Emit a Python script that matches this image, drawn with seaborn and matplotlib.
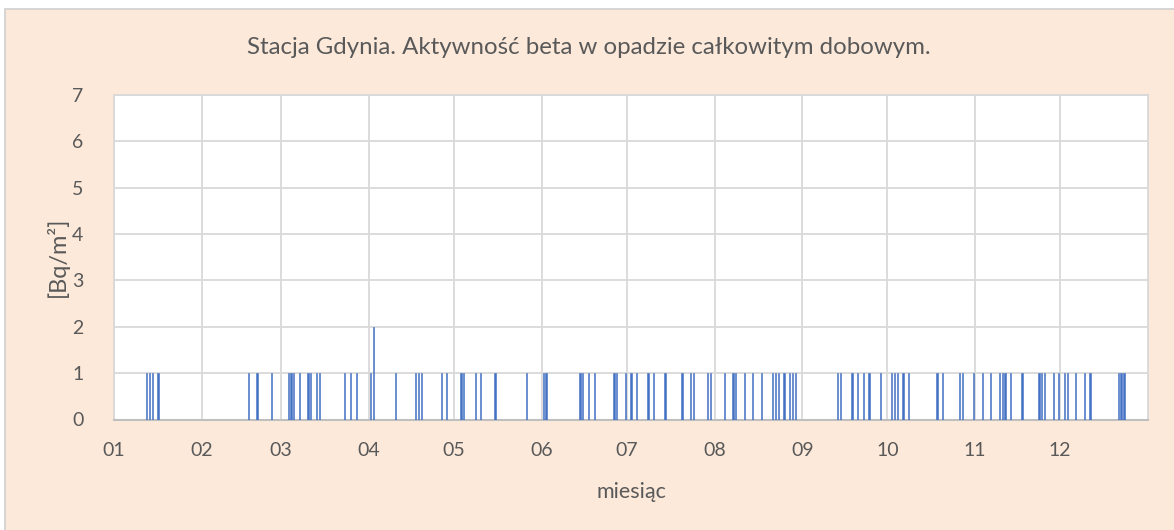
import numpy as np
import pandas as pd
import matplotlib
matplotlib.use("Agg")
import matplotlib.pyplot as plt
from matplotlib.patches import Rectangle
import seaborn as sns

# ---- data ----
year = 2021
dates = [
    "01-12", "01-13", "01-14", "01-16",
    "02-17", "02-20", "02-25",
    "03-03", "03-04", "03-05", "03-07", "03-10", "03-11", "03-13", "03-14",
    "03-23", "03-25", "03-27",
    "04-01", "04-02", "04-10", "04-17", "04-18", "04-19", "04-26", "04-28",
    "05-03", "05-04", "05-08", "05-10", "05-15", "05-26",
    "06-01", "06-02", "06-14", "06-15", "06-17", "06-19", "06-26", "06-27", "06-30",
    "07-02", "07-04", "07-08", "07-10", "07-14", "07-20", "07-23", "07-24", "07-29", "07-30",
    "08-04", "08-07", "08-08", "08-11", "08-14", "08-17", "08-21", "08-22", "08-23",
    "08-25", "08-27", "08-28", "08-29",
    "09-13", "09-14", "09-18", "09-20", "09-22", "09-24", "09-28",
    "10-02", "10-03", "10-04", "10-06", "10-08", "10-18", "10-20", "10-26", "10-27", "10-31",
    "11-03", "11-06", "11-09", "11-10", "11-11", "11-13", "11-17", "11-23", "11-24",
    "11-25", "11-28", "11-30",
    "12-02", "12-03", "12-06", "12-09", "12-11", "12-21", "12-22", "12-23",
]
values = [2 if d == "04-02" else 1 for d in dates]
month_labels = ["01", "02", "03", "04", "05", "06", "07", "08", "09", "10", "11", "12"]
y_ticks = [0, 1, 2, 3, 4, 5, 6, 7]

title = "Stacja Gdynia. Aktywność beta w opadzie całkowitym dobowym."
xlabel = "miesiąc"
ylabel = "[Bq/m²]"

# ---- derived ----
ts = pd.to_datetime([f"{year}-{d}" for d in dates])
day_pos = (ts.dayofyear - 1 + 0.5).astype(float)
df = pd.DataFrame({"day": day_pos, "val": values})
month_starts = pd.to_datetime([f"{year}-{m}-01" for m in month_labels])
tick_pos = (month_starts.dayofyear - 1).astype(float)
n_days = 366 if pd.Timestamp(f"{year}-12-31").dayofyear == 366 else 365

# ---- style ----
sns.set_theme(style="white")
plt.rcParams["font.family"] = ["Lato", "DejaVu Sans"]
txt = "#595959"
grid_c = "#D9D9D9"
bar_c = "#4472C4"
bg = "#FCE9DA"

fig = plt.figure(figsize=(11.74, 5.30), dpi=100, facecolor="white")
bgrect = Rectangle((5 / 1174, -0.01), 1.0, 1 - 9 / 530 + 0.01,
                   transform=fig.transFigure, facecolor=bg,
                   edgecolor="#D0D0D0", linewidth=1.2, zorder=-10)
fig.patches.append(bgrect)

ax = fig.add_axes([114 / 1174, 1 - 419.5 / 530, (1148 - 114) / 1174, (419.5 - 95) / 530])
ax.set_zorder(1)
ax.set_facecolor("white")

sns.barplot(data=df, x="day", y="val", native_scale=True, width=0.42,
            color=bar_c, saturation=1, errorbar=None, linewidth=0.4,
            edgecolor=bar_c, ax=ax, zorder=3)

ax.set_xlim(0, n_days)
ax.set_ylim(0, 7)
ax.set_xticks(tick_pos)
ax.set_xticklabels(month_labels)
ax.set_yticks(y_ticks)
ax.set_yticklabels([str(v) for v in y_ticks])
ax.tick_params(axis="both", length=0, labelsize=14, colors=txt)
ax.tick_params(axis="x", pad=16)
ax.tick_params(axis="y", pad=22)
for lab in ax.get_yticklabels():
    lab.set_horizontalalignment("right")

ax.grid(True, color=grid_c, linewidth=1.3, zorder=0)
ax.set_axisbelow(True)
for s in ["left", "top", "right"]:
    ax.spines[s].set_visible(True)
    ax.spines[s].set_color(grid_c)
    ax.spines[s].set_linewidth(1.3)
ax.spines["bottom"].set_color("#BFBFBF")
ax.spines["bottom"].set_linewidth(1.5)
ax.set_xlabel("")
ax.set_ylabel("")

fig.text(589 / 1174, 1 - 48 / 530, title, ha="center", va="center", fontsize=17.3, color=txt)
fig.text(631 / 1174, 1 - 492 / 530, xlabel, ha="center", va="center", fontsize=15.5, color=txt)
fig.text(57 / 1174, 1 - 257 / 530, ylabel, ha="center", va="center", rotation=90,
         fontsize=17, color=txt)

fig.savefig("out.png", dpi=100, facecolor="white")
